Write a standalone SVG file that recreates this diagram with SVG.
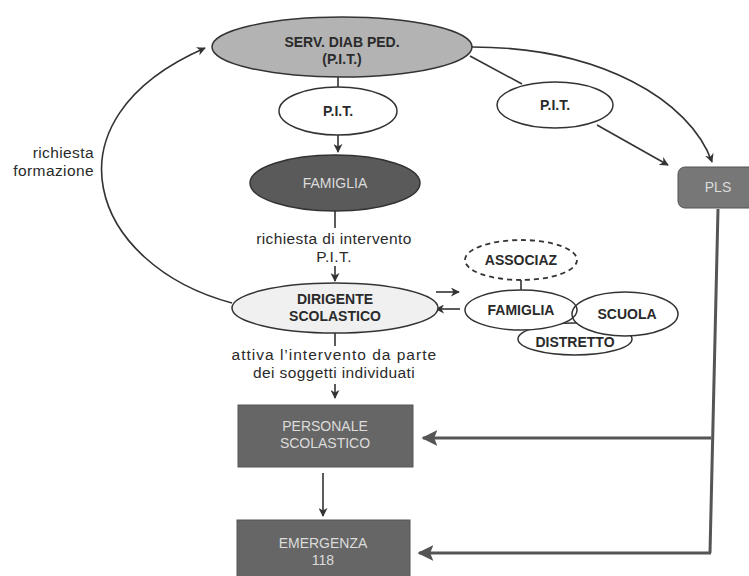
<svg xmlns="http://www.w3.org/2000/svg" width="749" height="576" viewBox="0 0 749 576">
<defs>
<marker id="ah" viewBox="0 0 10 10" refX="9" refY="5" markerWidth="9" markerHeight="9" markerUnits="userSpaceOnUse" orient="auto">
<path d="M0,0 L10,5 L0,10 L3,5 Z" fill="#333"/>
</marker>
<marker id="ahb" viewBox="0 0 10 10" refX="9" refY="5" markerWidth="16" markerHeight="16" markerUnits="userSpaceOnUse" orient="auto">
<path d="M0,0 L10,5 L0,10 L2,5 Z" fill="#555"/>
</marker>
<style>
text{font-family:"Liberation Sans",Arial,sans-serif;font-size:14px;font-weight:bold;text-anchor:middle;fill:#2a2a2a}
.n{font-weight:normal;font-size:15.5px;letter-spacing:0.4px}
.lt{fill:#dcdcdc;font-weight:normal}
.e{stroke:#333;stroke-width:1.5}
.c{fill:none;stroke:#333;stroke-width:1.6}
.b{fill:none;stroke:#555;stroke-width:3}
</style>
</defs>
<g id="connectors">
<line class="c" x1="338" y1="77" x2="338" y2="87"/>
<line class="c" x1="338" y1="135" x2="338" y2="152" marker-end="url(#ah)"/>
<line class="c" x1="335" y1="211" x2="335" y2="228"/>
<line class="c" x1="335" y1="266" x2="335" y2="281" marker-end="url(#ah)"/>
<line class="c" x1="335" y1="333" x2="335" y2="346"/>
<line class="c" x1="335" y1="384" x2="335" y2="398" marker-end="url(#ah)"/>
<line class="c" x1="323" y1="473" x2="323" y2="516" marker-end="url(#ah)"/>
<path class="c" d="M232,303 C90,265 40,120 205,48" marker-end="url(#ah)"/>
<path class="c" d="M472,47 C600,47 690,100 712,162" marker-end="url(#ah)"/>
<line class="c" x1="470" y1="56" x2="522" y2="84"/>
<line class="c" x1="597" y1="125" x2="668" y2="165" marker-end="url(#ah)"/>
<line class="c" x1="521" y1="280" x2="521" y2="290"/>
<line class="c" x1="436" y1="292" x2="459" y2="292" marker-end="url(#ah)"/>
<line class="c" x1="460" y1="309" x2="436" y2="309" marker-end="url(#ah)"/>
<polyline class="b" points="718,209 710,553"/>
<line class="b" x1="711" y1="438" x2="423" y2="438" marker-end="url(#ahb)"/>
<line class="b" x1="711" y1="553" x2="419" y2="553" marker-end="url(#ahb)"/>
</g>
<text class="n" x="94" y="158" style="text-anchor:end">richiesta</text>
<text class="n" x="94" y="176" style="text-anchor:end">formazione</text>
<text class="n" x="334" y="244">richiesta di intervento</text>
<text class="n" x="334" y="262">P.I.T.</text>
<text class="n" x="334" y="360" textLength="205" lengthAdjust="spacing">attiva l’intervento da parte</text>
<text class="n" x="334" y="378">dei soggetti individuati</text>
<g id="serv">
<ellipse class="e" cx="342" cy="47" rx="130" ry="30" fill="#b3b3b3"/>
<text x="342" y="47">SERV. DIAB PED.</text>
<text x="342" y="64">(P.I.T.)</text>
</g>
<g id="pit1">
<ellipse class="e" cx="338" cy="111" rx="59" ry="24" fill="#fff"/>
<text x="338" y="116">P.I.T.</text>
</g>
<g id="famiglia">
<ellipse class="e" cx="335" cy="183" rx="85" ry="28" fill="#5a5a5a"/>
<text class="lt" x="335" y="188">FAMIGLIA</text>
</g>
<g id="dirigente">
<ellipse class="e" cx="335" cy="308" rx="103" ry="25" fill="#f0f0f0"/>
<text x="335" y="304">DIRIGENTE</text>
<text x="335" y="321">SCOLASTICO</text>
</g>
<g id="pit2">
<ellipse class="e" cx="555" cy="105" rx="58" ry="23" fill="#fff"/>
<text x="555" y="110">P.I.T.</text>
</g>
<g id="pls">
<rect x="678" y="167" width="90" height="41" rx="7" fill="#777" stroke="#555" stroke-width="1"/>
<text class="lt" x="718" y="192">PLS</text>
</g>
<g id="associaz">
<ellipse cx="521" cy="260" rx="56" ry="20" fill="#fff" stroke="#333" stroke-width="1.8" stroke-dasharray="5,4"/>
<text x="521" y="265">ASSOCIAZ</text>
</g>
<g id="distretto">
<ellipse class="e" cx="575" cy="339" rx="57" ry="16" fill="#fff"/>
<text x="575" y="347">DISTRETTO</text>
</g>
<ellipse cx="625" cy="314" rx="53" ry="22" fill="#fff"/>
<g id="famiglia2">
<ellipse class="e" cx="521" cy="310" rx="56" ry="20" fill="#fff"/>
<text x="521" y="315">FAMIGLIA</text>
</g>
<g id="scuola">
<ellipse class="e" cx="625" cy="314" rx="53" ry="22" fill="none"/>
<text x="627" y="319">SCUOLA</text>
</g>
<g id="personale">
<rect x="238" y="405" width="175" height="62" fill="#666" stroke="#555"/>
<text class="lt" x="325" y="431">PERSONALE</text>
<text class="lt" x="325" y="448">SCOLASTICO</text>
</g>
<g id="emergenza">
<rect x="237" y="520" width="173" height="62" fill="#666" stroke="#555"/>
<text class="lt" x="323" y="548">EMERGENZA</text>
<text class="lt" x="323" y="565">118</text>
</g>
</svg>
